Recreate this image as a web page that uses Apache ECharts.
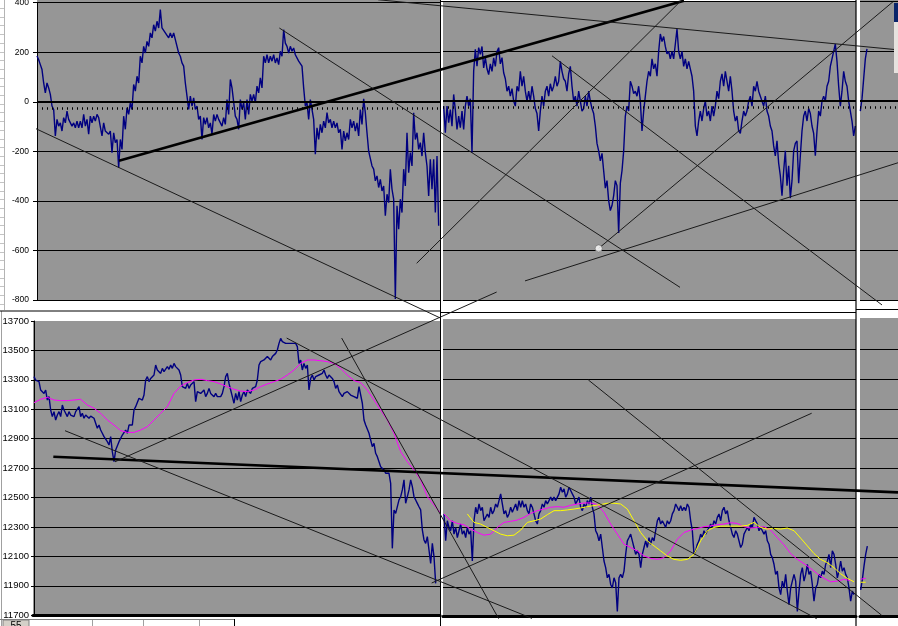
<!DOCTYPE html>
<html><head><meta charset="utf-8">
<script src="https://cdn.jsdelivr.net/npm/echarts@6/dist/echarts.min.js"></script>
<style>html,body{margin:0;padding:0;background:#fff}#c{width:898px;height:626px}</style>
</head><body><div id="c"></div>
<script>
// ---------------- DATA ----------------
// y-axis tick labels
const topTicks = [-800, -600, -400, -200, 0, 200, 400];
const bottomTicks = [11700, 11900, 12100, 12300, 12500, 12700, 12900, 13100, 13300, 13500, 13700];
// reference levels in the upper chart (solid zero line, dotted level)
const topRefLines = [0, -25];

// Upper chart (spread), time index t
const topLeftStart = 0;
const topLeftValues = [
185,170,150,130,76,36,76,56,30,-17,-31,-138,-71,-98,-85,-118,-64,-85,-38,-71,
-71,-98,-85,-105,-78,-105,-78,-105,-51,-98,-71,-131,-58,-85,-58,-78,-51,-64,-71,-138,
-85,-118,-111,-131,-118,-205,-125,-165,-152,-266,-152,-192,-58,-111,-24,-51,-4,-31,70,43,
103,76,184,157,224,197,244,224,278,258,311,285,325,298,372,298,298,278,285,258,
278,258,278,251,244,197,184,157,144,76,23,-31,23,-17,16,-31,-17,-71,-58,-152,
-64,-91,-64,-105,-85,-131,-51,-78,-51,-71,-71,-98,-64,-91,9,-51,90,56,50,-58,
-71,-111,9,-31,-4,-71,9,-51,30,3,30,-4,63,36,97,56,184,157,190,157,
184,164,190,157,177,150,204,184,291,237,224,197,224,204,217,190,190,164,
170,144,56,-17,-4,-71,9,-31,-71,-212,-105,-152,-91,-125,-78,-105,-44,-85,-71,-105,
-78,-105,-85,-125,-111,-192,-118,-158,-125,-152,-71,-105,-78,-118,-85,-138,-31,-91,12,-44,
-125,-199,-205,-259,-272,-319,-299,-346,-313,-360,-340,-460,-373,-407,-272,-353,-393,-796,-420,-514,
-393,-447,-272,-340,-125,-286,-205,-259,-44,-152,-125,-192,-165,-219,-125,-205,-259,-380,-232,-353,
-232,-447,-219,-500
];
const topMidStart = 244;
const topMidValues = [
-20,-127,-20,-87,-34,-101,27,-34,-114,-60,
-107,-40,-114,-20,20,-20,10,-208,121,208,
141,215,188,220,134,175,130,107,150,120,
174,140,200,215,150,175,114,90,40,60,
20,50,0,-20,60,40,120,60,100,40,
0,40,0,60,20,-30,-50,-120,-40,20,
-20,40,60,20,70,40,60,100,60,80,
160,120,90,80,40,110,140,60,0,20,
-20,40,0,-40,-30,20,-20,40,0,-30,
-50,-100,-170,-200,-240,-210,-280,-350,-320,-400,
-440,-420,-380,-320,-340,-530,-330,-280,-200,-60,
-20,-40,80,60,30,40,20,60,0,-120,
-40,20,80,120,100,170,130,150,100,200,
270,240,260,220,190,200,170,200,170,230,
290,200,170,200,140,170,130,160,130,100,
40,-100,-140,-80,-40,-80,-30,0,-60,-40,
-80,-20,-60,-20,40,10,80,110,60,120,
80,40,100,40,-40,-80,-60,-120,-130,-80,
-40,-60,-40,0,20,-20,60,40,80,40,
20,0,-20,20,-40,-60,-100,-120,-180,-220,
-160,-250,-300,-380,-280,-200,-340,-260,-390,-320,
-200,-170,-160,-330,-220,-120,-60,-40,-80,-30,
-50,-100,-130,-220,-120,-40,-60,0,20,0,
60,80,140,170,200,230,160,60,-20,40,
120,80,60,0,-40,-80,-140,-100
];
const topRightStart = 494;
const topRightValues = [-40, 10, 90, 170, 210];

// Lower chart (index level)
const bottomLeftStart = 0;
const bottomLeftValues = [
13322,13299,13310,13288,13231,13242,13208,13231,13163,13186,
13095,13050,13084,13027,13061,13084,13050,13129,13095,13073,
13050,13084,13061,13073,13050,13084,13073,13118,13050,13073,
13039,13061,13050,13039,13054,13050,13039,13027,12971,12993,
12959,12937,12914,12925,12880,12857,12914,12812,
12744,12823,12812,12880,12891,12925,12914,12959,12937,12993,
13005,12993,13095,13118,13107,13175,13186,13163,13197,13299,
13322,13288,13310,13299,13333,13401,13367,13378,13344,13378,
13356,13367,13390,13372,13401,13378,13412,13390,13378,13367,
13333,13254,13265,13242,13276,13242,13265,13254,13288,13152,
13220,13231,13208,13220,13231,13186,13208,13242,13208,13220,
13186,13208,13186,13197,13186,13208,13254,13322,13344,13276,
13231,13186,13141,13208,13163,13220,13152,13197,13220,13186,
13231,13220,13208,13242,13231,13254,13299,13401,13424,13412,
13435,13424,13458,13446,13435,13458,13446,13480,13503,13548,
13582,13560,13571,13548,13560,13548,13560,13548,13537,13548,
13526,13412,
13435,13367,13412,13378,13401,
13231,13310,13333,13299,13322,13310,13333,13322,13344,13367,
13333,13310,13333,13322,13310,13288,13242,13265,13220,13231,
13186,13208,13197,13220,13231,13197,13208,13186,13197,13175,
13254,13242,13141,13027,12993,13005,12937,12891,12846,12869,
12801,12778,12744,12710,12722,12688,12665,12654,12665,12597,
12155,12416,12393,12438,12484,12506,12552,12620,12461,12506,
12552,12620,12574,12506,12484,12461,12438,12416,12280,12212,
12189,12235,12144,12053,12189,12099,11917
];
const bottomMidStart = 246;
const bottomMidValues = [
12392,12211,12346,12301,12279,12346,12256,12301,12233,12279,
12324,12256,12279,12233,12301,12256,12279,12075,12346,12437,
12392,12459,12414,12437,12346,12369,12392,12369,12437,12392,
12414,12459,12437,12482,12527,12459,12392,12414,12369,12392,
12437,12403,12392,12459,12414,12482,12437,12482,12437,12459,
12414,12392,12459,12437,12392,12346,12324,12392,12414,12459,
12437,12482,12459,12482,12505,12482,12505,12482,12493,12527,
12572,12538,12561,12505,12527,12572,12550,12527,12505,12459,
12482,12505,12437,12414,12459,12437,12482,12459,12505,12437,
12392,12279,12256,12211,12256,12166,12075,12030,11962,11985,
11917,11894,11962,11928,11736,11962,11985,11962,12007,12120,
12211,12233,12256,12211,12166,12120,12143,12120,12030,12120,
12166,12211,12166,12233,12188,12233,12211,12279,12346,12369,
12324,12346,12324,12301,12346,12324,12346,12392,12414,12459,
12437,12414,12448,12414,12437,12414,12459,12437,12346,12279,
12120,12143,12188,12211,12256,12233,12279,12256,12279,12301,
12324,12301,12346,12324,12369,12392,12346,12414,12437,12392,
12414,12346,12301,12256,12233,12279,12256,12211,12166,12188,
12256,12279,12301,12279,12324,12301,12369,12346,12324,12279,
12301,12279,12256,12279,12211,12188,12120,12098,12053,11985,
12007,11894,11849,11940,11894,11985,11872,11781,11894,11940,
11985,11940,11736,11872,11985,12030,11940,11985,12053,11985,
12007,11917,11804,11894,11917,11985,11962,12007,11985,12053,
12075,12120,12030,12143,12120,12053,11962,12007,12075,12007,
12030,11985,11962,11894,11804,11872,11849
];
const bottomRightStart = 496;
const bottomRightValues = [11880, 11950, 12040, 12120, 12175];

// moving averages (every 4th index)
const maLeftStart = 0;
const maLeftValues = [
13145,13168,13181,13163,13159,13159,13163,13168,13129,13107,
13073,13027,12993,12955,12943,12943,12959,12982,13027,13073,
13118,13208,13258,13281,13299,13304,13295,13288,13272,13254,
13236,13224,13220,13231,13254,13272,13288,13304,13333,13367,
13412,
13435,13435,13430,13424,13412,13378,13333,13295,13281,13231,
13163,13095,13027,12937,12812,12744,12688,12620,12506,12450,12393
];
const maMidStart = 246;
const maMidValues = [
12392,12346,12328,12319,12290,12267,12249,12256,12301,12335,
12342,12351,12369,12396,12414,12425,12437,12441,12437,12450,
12459,12466,12466,12455,12403,12324,12256,12188,12166,12143,
12109,12093,12086,12098,12143,12222,12267,12283,12294,12306,
12312,12319,12324,12333,12328,12306,12297,12301,12306,12283,
12233,12184,12125,12086,12057,12025,11989,11958,11935,11940,
11951,11944
];
const maRightStart = 496;
const maRightValues = [11952, 11959];
const ma2MidStart = 260;
const ma2MidValues = [
12392,12335,12324,12301,12279,12256,12245,12249,12283,12335,
12346,12358,12387,12414,12414,12419,12425,12432,12441,12448,
12455,12464,12464,12459,12425,12346,12267,12211,12177,12143,
12109,12086,12080,12086,12120,12211,12279,12301,12310,12310,
12310,12310,12315,12335,12301,12290,12294,12290,12297,12279,
12229,12177,12125,12086,12064,12030,11989,11958,11935
];
const ma2RightStart = 496;
const ma2RightValues = [11932, 11932];

// hand-drawn trend lines: [[t1, v1], [t2, v2]]
const topTrendLines = [
  [[-22.2, -42], [241.8, -872]],
  [[49.2, -239], [388.2, 406]],
  [[145.4, 296], [385.8, -749]],
  [[227.8, -652], [387, 410]],
  [[204.6, 410], [516.6, 208]],
  [[337.0, -592], [513.8, 403]],
  [[292.8, -723], [516.6, -247]],
  [[309.0, 184], [507.0, -820]]
];
const topMarkerPoint = [337.0, -592];
const bottomTrendLines = [
  [[11.6, 12778], [518.4, 12537]],
  [[18.6, 12954], [298.8, 11686]],
  [[184.6, 13580], [278.8, 11684]],
  [[151.6, 13580], [469.6, 11684]],
  [[238.6, 11925], [466.6, 13072]],
  [[332.6, 13297], [508.6, 11707]],
  [[48.6, 12744], [277.6, 13891]]
];

// ---------------- STYLE / LAYOUT ----------------
const C = {gray:'#969696', navy:'#000080', mag:'#ff00ff', yel:'#ffff00', trend:'#1a1a1a', black:'#000'};
const PX = 5/3;            // pixels per time step
const TOP_ORIGIN = 37, BOT_ORIGIN = 34;
const THICK_TOP = [1], THICK_BOT = [0];
const FONT = 'Liberation Sans, Arial, sans-serif';

const panels = [
  {key:'TL', left:37,  top:2.7,   width:403, height:297.3, origin:TOP_ORIGIN, row:'top', main:true},
  {key:'TM', left:443, top:1.7,   width:413, height:298.3, origin:TOP_ORIGIN, row:'top'},
  {key:'TR', left:860, top:1.7,   width:38,  height:298.3, origin:TOP_ORIGIN, row:'top'},
  {key:'TO', left:37,  top:2.2,   width:861, height:297.8, origin:TOP_ORIGIN, row:'top', overlay:true},
  {key:'BL', left:33,  top:321,   width:407, height:294.3, origin:BOT_ORIGIN, row:'bot', main:true},
  {key:'BM', left:443, top:319.7, width:413, height:297,   origin:BOT_ORIGIN, row:'bot'},
  {key:'BR', left:860, top:319.7, width:38,  height:297,   origin:BOT_ORIGIN, row:'bot'},
  {key:'BO', left:33,  top:320.3, width:865, height:296,   origin:BOT_ORIGIN, row:'bot', overlay:true}
];

const grid = [], xAxis = [], yAxis = [];
panels.forEach((p, i) => {
  grid.push({left:p.left, top:p.top, width:p.width, height:p.height, show:false, containLabel:false, outerBoundsMode:'none'});
  const isBot = p.row === 'bot';
  xAxis.push({
    type:'value', gridIndex:i,
    min:(p.left - p.origin)/PX, max:(p.left + p.width - p.origin)/PX,
    show: isBot && !p.overlay,
    axisLine:{show:true, onZero:false, lineStyle:{color:C.black, width:3}},
    axisTick:{show:false}, axisLabel:{show:false}, splitLine:{show:false}
  });
  const ticks = isBot ? bottomTicks : topTicks;
  yAxis.push({
    type:'value', gridIndex:i,
    min:Math.min(...ticks), max:Math.max(...ticks), interval:ticks[1]-ticks[0],
    show: !p.overlay,
    axisLine:{show:!!p.main, lineStyle:{color:C.black, width:1}},
    axisTick:{show:!!p.main, length:isBot?3:4, lineStyle:{color:C.black}},
    axisLabel:{show:!!p.main, color:C.black, fontFamily:FONT, fontSize:isBot?9.5:8.5, margin:isBot?4:8,
               formatter: v => String(Math.round(v))},
    splitLine:{show:true, showMaxLine:!isBot, lineStyle:{color:C.black, width:1}}
  });
});

const seq = (start, step, vals) => vals.map((v, i) => [start + i*step, v]);
const series = [];
function dataLine(idx, start, step, vals, color, width, z, extra) {
  series.push(Object.assign({
    type:'line', xAxisIndex:idx, yAxisIndex:idx, data:seq(start, step, vals),
    symbol:'none', showSymbol:false, silent:true, animation:false,
    lineStyle:{color, width}, z
  }, extra || {}));
}
const refMark = {
  silent:true, symbol:['none','none'], label:{show:false}, animation:false,
  data: [
    {yAxis: topRefLines[0], lineStyle:{color:C.black, width:2.2, type:'solid'}},
    {yAxis: topRefLines[1], lineStyle:{color:C.black, width:2.5, type:[1,4]}}
  ]
};
dataLine(0, topLeftStart, 1, topLeftValues, C.navy, 1.4, 3, {markLine:refMark});
dataLine(1, topMidStart, 1, topMidValues, C.navy, 1.4, 3, {markLine:refMark});
dataLine(2, topRightStart, 1, topRightValues, C.navy, 1.4, 3, {markLine:refMark});

dataLine(4, bottomLeftStart, 1, bottomLeftValues, C.navy, 1.4, 3);
dataLine(5, bottomMidStart, 1, bottomMidValues, C.navy, 1.4, 3);
dataLine(6, bottomRightStart, 1, bottomRightValues, C.navy, 1.4, 3);
dataLine(4, maLeftStart, 4, maLeftValues, C.mag, 1, 4);
dataLine(5, maMidStart, 4, maMidValues, C.mag, 1, 4);
dataLine(6, maRightStart, 3, maRightValues, C.mag, 1, 4);
dataLine(5, ma2MidStart, 4, ma2MidValues, C.yel, 1, 4);
dataLine(6, ma2RightStart, 3, ma2RightValues, C.yel, 1, 4);

topTrendLines.forEach((ln, k) => series.push({
  type:'line', xAxisIndex:3, yAxisIndex:3, data:ln, clip:false, symbol:'none', silent:true, animation:false,
  lineStyle:{color: THICK_TOP.includes(k) ? C.black : C.trend, width: THICK_TOP.includes(k) ? 2.6 : 1}, z:6
}));
bottomTrendLines.forEach((ln, k) => series.push({
  type:'line', xAxisIndex:7, yAxisIndex:7, data:ln, clip:false, symbol:'none', silent:true, animation:false,
  lineStyle:{color: THICK_BOT.includes(k) ? C.black : C.trend, width: THICK_BOT.includes(k) ? 2.6 : 1}, z:6
}));
series.push({
  type:'scatter', xAxisIndex:3, yAxisIndex:3, data:[topMarkerPoint], symbol:'circle', symbolSize:7,
  clip:false, silent:true, animation:false, itemStyle:{color:'#fff', borderColor:'#555', borderWidth:0.6}, z:7
});

// ---------------- DECORATION (spreadsheet frame) ----------------
const g = [];
const rect = (x,y,w,h,fill,z,stroke) => g.push({type:'rect', shape:{x,y,width:w,height:h}, style:{fill, stroke:stroke||null, lineWidth:stroke?1:0}, z, silent:true});
const seg = (x1,y1,x2,y2,color,w,z) => g.push({type:'line', shape:{x1,y1,x2,y2}, style:{stroke:color, lineWidth:w}, z, silent:true});
// panel backgrounds
rect(37,0,403,300,C.gray,-10);
rect(443,2,413,298,C.gray,-10);
rect(860,0,38,300,C.gray,-10);
rect(33,321,407,294,C.gray,-10);
rect(443,319,413,298,C.gray,-10);
rect(860,318,38,299,C.gray,-10);
// separators
seg(440.5,0,440.5,626,C.black,1,5);
seg(856,0,856,626,C.black,1.2,5);
seg(0,311,441,311,C.black,1,5);
seg(441,312.5,856,312.5,C.black,1,5);
seg(856,309.5,898,309.5,C.black,1,5);
seg(441,1.5,856,1.5,C.black,1,5);
// row header strip at left
seg(4.5,0,4.5,310,'#b4b4b4',1,1);
for (let y = 8; y < 305; y += 8.7) seg(0,Math.round(y)+0.5,4,Math.round(y)+0.5,'#c4c4c4',1,1);
seg(1.5,311,1.5,626,'#a0a0a0',1,1);
// sheet tab bar
seg(0,619.5,235,619.5,'#808080',1,1);
rect(3,620,26,7,'#d4d0c8',1,'#808080');
g.push({type:'text', x:16, y:621, style:{text:'55', fill:'#000', font:'10px Liberation Sans, Arial', textAlign:'center', textVerticalAlign:'top'}, z:2, silent:true});
[92,143,199].forEach(x => seg(x+0.5,620,x+0.5,626,'#a0a0a0',1,1));
seg(234.5,619,234.5,626,C.black,1,1);
// window edge at the far right
rect(894,3,4,19,'#0a246a',8);
rect(894,22,4,51,'#e6e2de',8);

const chart = echarts.init(document.getElementById('c'), null, {renderer:'canvas'});
chart.setOption({animation:false, backgroundColor:'#fff', grid, xAxis, yAxis, series, graphic:{elements:g}});
</script></body></html>
